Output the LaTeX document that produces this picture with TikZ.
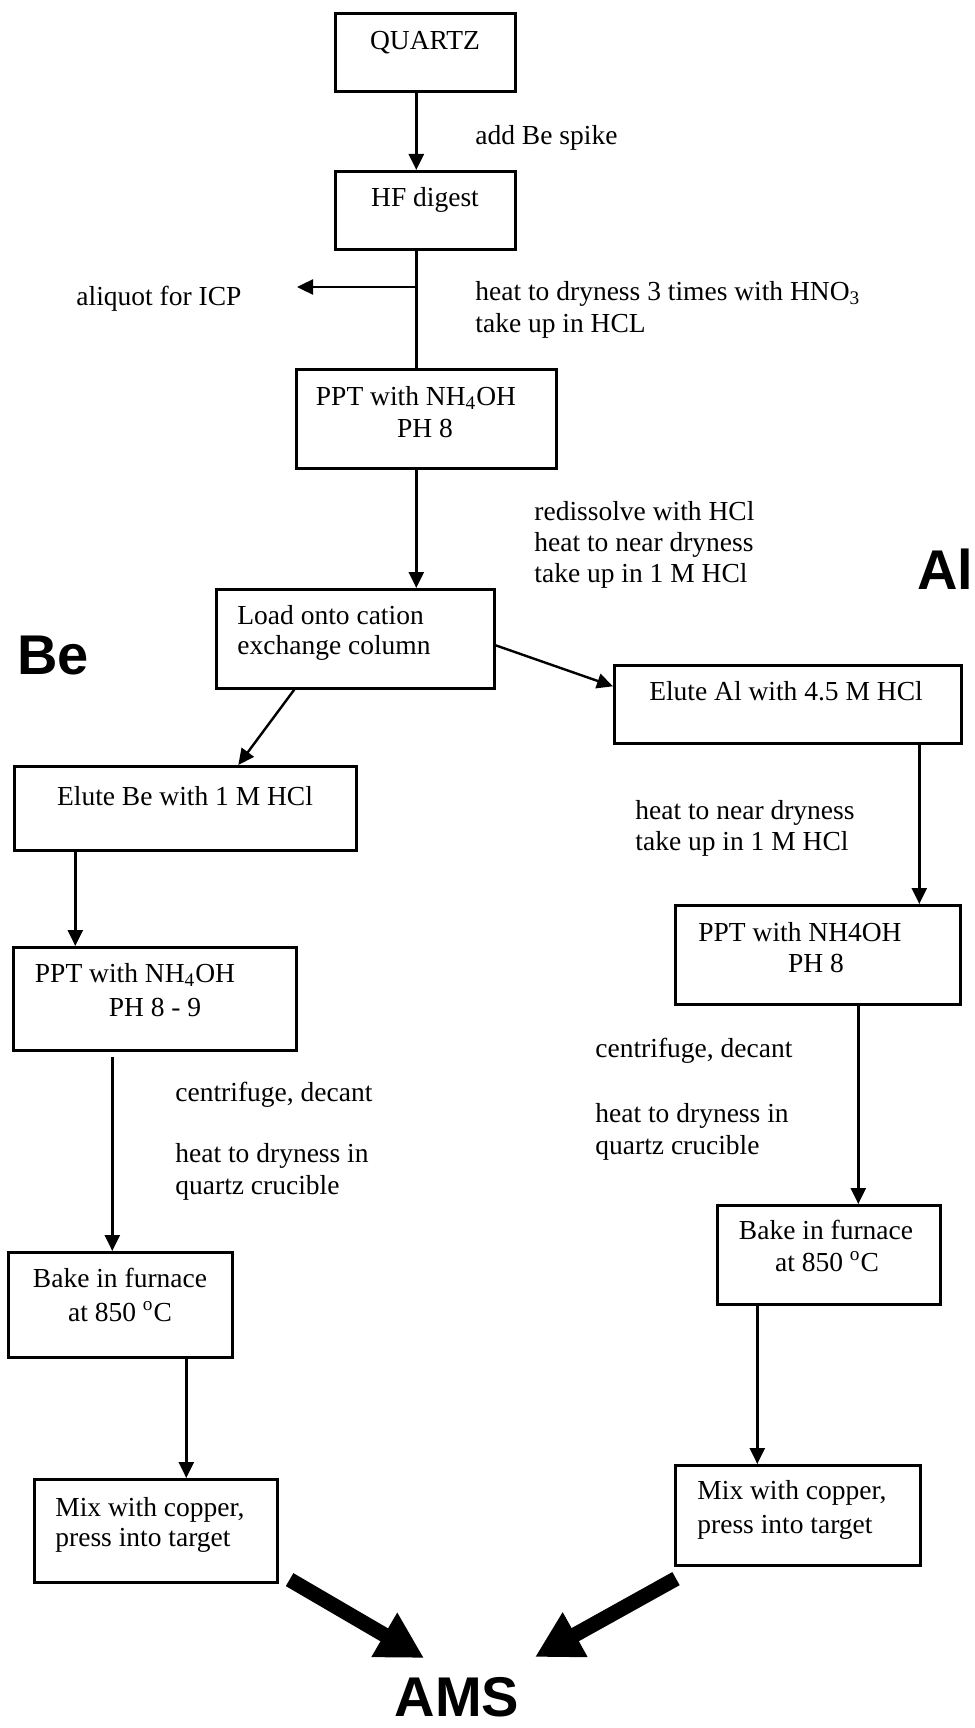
\documentclass[tikz,border=0pt]{standalone}
\usepackage{fontspec}
\setmainfont{Liberation Serif}
\newfontfamily\bigsans{Liberation Sans}
\usetikzlibrary{arrows.meta}
\begin{document}
\begin{tikzpicture}[x=0.5pt,y=-0.5pt,
  box/.style={draw, line width=1.3pt, rectangle, inner sep=0pt, anchor=north west},
  txt/.style={inner sep=0pt, font=\fontsize{13.75pt}{16pt}\selectfont},
  lbl/.style={txt, anchor=base west},
  ctr/.style={txt, anchor=base},
  big/.style={inner sep=0pt, anchor=base west, font=\bigsans\bfseries\fontsize{28pt}{32pt}\selectfont},
  arr/.style={line width=1.2pt, -{Triangle[length=8pt,width=7.5pt]}},
  ln/.style={line width=1.2pt},
  fat/.style={line width=7.5pt, -{Triangle[length=23pt,width=24pt]}}
]
\useasboundingbox (0,0) rectangle (974,1728);

% boxes
\node[box, minimum width=90pt,    minimum height=39pt]   (quartz)  at (334,12)   {};
\node[box, minimum width=90pt,    minimum height=39pt]   (hf)      at (334,170)  {};
\node[box, minimum width=130pt,   minimum height=49.5pt] (ppt1)    at (295,368)  {};
\node[box, minimum width=139pt,   minimum height=49.5pt] (load)    at (215,588)  {};
\node[box, minimum width=171pt,   minimum height=42pt]   (eluteBe) at (13,765)   {};
\node[box, minimum width=173.5pt, minimum height=39pt]   (eluteAl) at (613,664)  {};
\node[box, minimum width=141.5pt, minimum height=51.5pt] (pptBe)   at (12,946)   {};
\node[box, minimum width=142.5pt, minimum height=49.5pt] (pptAl)   at (674,904)  {};
\node[box, minimum width=112pt,   minimum height=52.5pt] (bakeBe)  at (7,1251)   {};
\node[box, minimum width=111.5pt, minimum height=49.5pt] (bakeAl)  at (716,1204) {};
\node[box, minimum width=121.5pt, minimum height=51.5pt] (mixBe)   at (33,1478)  {};
\node[box, minimum width=122.5pt, minimum height=50pt]   (mixAl)   at (674,1464) {};

% box texts
\node[ctr] (tq)   at (425,50)  {QUARTZ};
\node[ctr] (thf)  at (425,206) {HF digest};
\node[ctr] (tp1a) at (416,405) {PPT with NH\textsubscript{4}OH};
\node[ctr] (tp1b) at (425,437) {PH 8};
\node[lbl] (tla)  at (237,624) {Load onto cation};
\node[lbl] (tlb)  at (237,654) {exchange column};
\node[ctr] (teb)  at (185,805) {Elute Be with 1 M HCl};
\node[ctr] (tea)  at (786,700) {Elute Al with 4.5 M HCl};
\node[ctr] (tpba) at (135,982) {PPT with NH\textsubscript{4}OH};
\node[ctr] (tpbb) at (155,1016) {PH 8 - 9};
\node[ctr] (tpaa) at (800,941) {PPT with NH4OH};
\node[ctr] (tpab) at (816,972) {PH 8};
\node[ctr] (tbba) at (120,1287) {Bake in furnace};
\node[ctr] (tbbb) at (120,1321) {at 850 \textsuperscript{o}C};
\node[ctr] (tbaa) at (826,1239) {Bake in furnace};
\node[ctr] (tbab) at (827,1271) {at 850 \textsuperscript{o}C};
\node[lbl] (tmba) at (55,1516) {Mix with copper,};
\node[lbl] (tmbb) at (55,1546) {press into target};
\node[lbl] (tmaa) at (697,1499) {Mix with copper,};
\node[lbl] (tmab) at (697,1533) {press into target};

% free labels
\node[lbl] (l1)  at (475,145) {add Be spike};
\node[lbl] (l2)  at (76,305)  {aliquot for ICP};
\node[lbl] (l3a) at (475,300) {heat to dryness 3 times with HNO\textsubscript{3}};
\node[lbl] (l3b) at (475,332) {take up in HCL};
\node[lbl] (l4a) at (534,520) {redissolve with HCl};
\node[lbl] (l4b) at (534,551) {heat to near dryness};
\node[lbl] (l4c) at (534,582) {take up in 1 M HCl};
\node[lbl] (l5a) at (635,819) {heat to near dryness};
\node[lbl] (l5b) at (635,850) {take up in 1 M HCl};
\node[lbl] (l6a) at (175,1101) {centrifuge, decant};
\node[lbl] (l6b) at (175,1162) {heat to dryness in};
\node[lbl] (l6c) at (175,1194) {quartz crucible};
\node[lbl] (l7a) at (595,1057) {centrifuge, decant};
\node[lbl] (l7b) at (595,1122) {heat to dryness in};
\node[lbl] (l7c) at (595,1154) {quartz crucible};

% big labels
\node[big] (be) at (17,674) {Be};
\node[big] (al) at (917,589) {Al};
\node[big, anchor=base] (ams) at (457,1716) {AMS};

% connectors
\draw[arr] ([xshift=-4.5pt]quartz.south) -- ([xshift=-4.5pt]quartz.south |- hf.north);
\draw[ln]  ([xshift=-4.5pt]hf.south) -- ([xshift=-4.5pt]hf.south |- ppt1.north);
\coordinate (br) at (415,287);
\coordinate (aliqEnd) at (297,287);
\draw[arr] (br) -- (aliqEnd);
\draw[arr] ([xshift=-5pt]ppt1.south) -- ([xshift=-5pt]ppt1.south |- load.north);
\draw[arr] ([xshift=-30.5pt]load.south) -- ([xshift=26.5pt]eluteBe.north);
\draw[arr] ([yshift=-3.25pt]load.east) -- ([yshift=9pt]eluteAl.west);
\draw[arr] ([xshift=65.75pt]eluteAl.south) -- ([xshift=65.75pt]eluteAl.south |- pptAl.north);
\draw[arr] ([xshift=-55pt]eluteBe.south) -- ([xshift=-55pt]eluteBe.south |- pptBe.north);
\draw[arr] ([xshift=-21.25pt,yshift=-2.5pt]pptBe.south) -- ([xshift=-21.25pt]pptBe.south |- bakeBe.north);
\draw[arr] ([xshift=20.25pt]pptAl.south) -- ([xshift=20.25pt]pptAl.south |- bakeAl.north);
\draw[arr] ([xshift=33pt]bakeBe.south) -- ([xshift=33pt]bakeBe.south |- mixBe.north);
\draw[arr] ([xshift=-35.75pt]bakeAl.south) -- ([xshift=-35.75pt]bakeAl.south |- mixAl.north);

% thick arrows to AMS
\coordinate (tipL) at (424,1658);
\coordinate (tipR) at (535,1657);
\draw[fat] ([xshift=5.5pt,yshift=2pt]mixBe.south east) -- (tipL);
\draw[fat] ([xshift=1pt,yshift=-6pt]mixAl.south west) -- (tipR);
\end{tikzpicture}
\end{document}
